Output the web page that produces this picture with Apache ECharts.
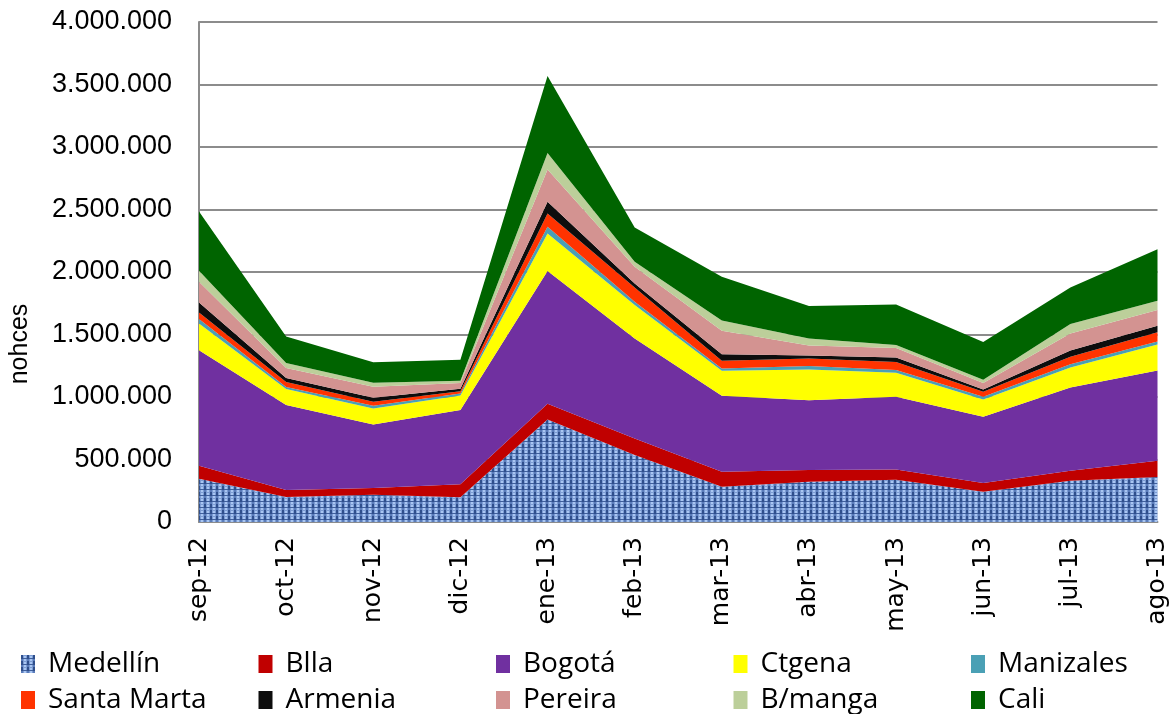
<!DOCTYPE html>
<html>
<head>
<meta charset="utf-8">
<script src="https://cdn.jsdelivr.net/npm/echarts@6/dist/echarts.min.js"></script>
<style>
html, body { margin: 0; padding: 0; background: #fff; }
#chart { width: 1170px; height: 714px; }
</style>
</head>
<body>
<div id="chart"></div>
<script>
'use strict';

// months on the x axis
const months = ['sep-12', 'oct-12', 'nov-12', 'dic-12', 'ene-13', 'feb-13',
    'mar-13', 'abr-13', 'may-13', 'jun-13', 'jul-13', 'ago-13'];

// noches per city (stacked bottom to top)
const medellin   = [347000, 200000, 218000, 199000, 821000, 536000, 283000, 323000, 338000, 243000, 330000, 360000];
const blla       = [103000, 56000, 54000, 103000, 125000, 133000, 120000, 93000, 82000, 69000, 80000, 131000];
const bogota     = [925000, 681000, 508000, 594000, 1062000, 800000, 607000, 558000, 583000, 531000, 666000, 722000];
const ctgena     = [214000, 127000, 128000, 116000, 301000, 267000, 201000, 247000, 191000, 138000, 160000, 208000];
const manizales  = [36000, 16000, 22000, 16000, 54000, 27000, 18000, 27000, 22000, 22000, 26000, 24000];
const santaMarta = [52000, 40000, 32000, 19000, 106000, 114000, 61000, 61000, 64000, 40000, 60000, 74000];
const armenia    = [79000, 32000, 33000, 19000, 94000, 32000, 52000, 23000, 36000, 18000, 51000, 51000];
const pereira    = [167000, 80000, 87000, 46000, 258000, 134000, 188000, 80000, 76000, 51000, 136000, 126000];
const bmanga     = [87000, 40000, 33000, 18000, 131000, 40000, 82000, 57000, 24000, 26000, 76000, 74000];
const cali       = [474000, 213000, 163000, 168000, 616000, 274000, 351000, 259000, 325000, 302000, 291000, 412000];

const cityNames = ['Medellín', 'Blla', 'Bogotá', 'Ctgena', 'Manizales',
    'Santa Marta', 'Armenia', 'Pereira', 'B/manga', 'Cali'];

// blue woven texture used for Medellín
function denimTexture() {
    const size = 12;
    const c = document.createElement('canvas');
    c.width = size;
    c.height = size;
    const ctx = c.getContext('2d');
    ctx.fillStyle = '#7d9dd4';
    ctx.fillRect(0, 0, size, size);
    for (let y = 0; y < size; y++) {
        for (let x = 0; x < size; x++) {
            let col = null;
            if (x % 6 === 0 || x % 6 === 1) {
                col = (y % 6 < 4) ? '#2f4f8c' : '#5a7cba';
            } else if (y % 6 === 3) {
                col = '#3f5f9c';
            } else if ((x % 6 === 3 || x % 6 === 4) && y % 6 !== 0) {
                col = '#a9c6f2';
            }
            if (col) {
                ctx.fillStyle = col;
                ctx.fillRect(x, y, 1, 1);
            }
        }
    }
    return c;
}

const medellinFill = { image: denimTexture(), repeat: 'repeat' };

const colors = [medellinFill, '#c00000', '#7030a0', '#ffff00', '#4aa0b5',
    '#ff3300', '#0d0d0d', '#d39391', '#bccf9a', '#006400'];
const values = [medellin, blla, bogota, ctgena, manizales,
    santaMarta, armenia, pereira, bmanga, cali];

function dotted(v) {
    return String(v).replace(/\B(?=(\d{3})+(?!\d))/g, '.');
}

// one legend per entry so the columns line up like the original
const legends = cityNames.map(function (name, i) {
    return {
        left: 21 + (i % 5) * 237.5,
        top: i < 5 ? 650 : 686,
        padding: 0,
        icon: 'rect',
        itemWidth: 14,
        itemHeight: 18,
        selectedMode: false,
        data: [name],
        textStyle: {
            fontFamily: 'Open Sans',
            fontSize: 28,
            color: '#000',
            padding: [0, 0, 0, 8]
        }
    };
});

const option = {
    animation: false,
    backgroundColor: '#fff',
    grid: { left: 197, right: 12, top: 22, bottom: 192 },
    legend: legends,
    xAxis: {
        type: 'category',
        data: months,
        boundaryGap: false,
        axisLine: { lineStyle: { color: '#8c8c8c', width: 2 } },
        axisTick: { show: false },
        axisLabel: {
            rotate: 90,
            margin: 15,
            interval: 0,
            fontFamily: 'DejaVu Sans',
            fontSize: 25,
            color: '#000'
        },
        splitLine: { show: false }
    },
    yAxis: {
        type: 'value',
        min: 0,
        max: 4000000,
        interval: 500000,
        name: 'nohces',
        nameLocation: 'middle',
        nameGap: 166,
        nameRotate: 90,
        nameTextStyle: {
            fontFamily: 'Liberation Sans',
            fontSize: 25,
            color: '#000',
            padding: [0, 144, 0, 0]
        },
        axisLine: { show: true, lineStyle: { color: '#8c8c8c', width: 2 } },
        axisTick: { show: false },
        axisLabel: {
            margin: 27,
            fontFamily: 'Liberation Sans',
            fontSize: 27,
            color: '#000',
            formatter: dotted
        },
        splitLine: { lineStyle: { color: '#8c8c8c', width: 2 } }
    },
    series: cityNames.map(function (name, i) {
        return {
            name: name,
            type: 'line',
            stack: 'total',
            data: values[i],
            symbol: 'none',
            color: colors[i],
            itemStyle: { color: colors[i] },
            lineStyle: { width: 0 },
            areaStyle: { color: colors[i], opacity: 1 }
        };
    })
};

const chartDom = document.getElementById('chart');
const myChart = echarts.init(chartDom);
myChart.setOption(option);
window.addEventListener('resize', function () {
    myChart.resize();
});
</script>
</body>
</html>
